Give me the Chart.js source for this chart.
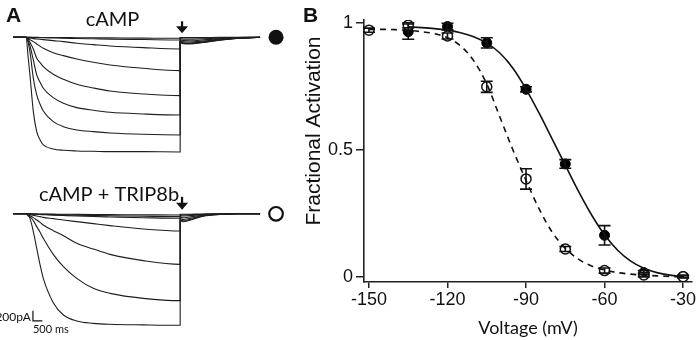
<!DOCTYPE html>
<html>
<head>
<meta charset="utf-8">
<script src="https://cdn.jsdelivr.net/npm/chart.js@4.4.1/dist/chart.umd.min.js"></script>
<style>
html, body { margin: 0; padding: 0; background: #fff; }
#wrap { position: relative; width: 699px; height: 340px; background: #fff; overflow: hidden; }
canvas { position: absolute; }
#topA { left: 0; top: 0; }
#botA { left: 0; top: 170px; }
#panelB { left: 300px; top: 0; }
</style>
</head>
<body>
<div id="wrap">
<canvas id="topA" width="300" height="170"></canvas>
<canvas id="botA" width="300" height="170"></canvas>
<canvas id="panelB" width="399" height="340"></canvas>
</div>
<script>
// ---- panel A: current traces (time in ms, current in pA) ----
var holdTime = -680;
var stepTimes = [0, 120, 210, 390, 570, 750, 920, 1450, 1990, 2700, 3580, 4470, 6240, 8200];
var tailTimes = [8200, 8370, 8720, 9430, 10320, 11210, 12450];

var campTraces = [
    [0, 0, -1, -1, -2, -3, -3, -5, -6, -8, -10, -12, -16, -20],
    [0, -1, -2, -4, -6, -8, -10, -14, -18, -24, -30, -36, -44, -53],
    [0, -7, -13, -27, -33, -40, -47, -67, -87, -120, -147, -173, -207, -233],
    [0, -20, -47, -87, -133, -180, -220, -307, -367, -433, -500, -553, -620, -667],
    [0, -40, -100, -233, -420, -507, -587, -740, -840, -940, -1013, -1073, -1133, -1167],
    [0, -73, -167, -453, -753, -900, -1020, -1207, -1320, -1407, -1460, -1500, -1533, -1553],
    [0, -120, -287, -820, -1153, -1340, -1473, -1687, -1787, -1853, -1887, -1913, -1940, -1953],
    [0, -420, -753, -1487, -1887, -2053, -2153, -2233, -2260, -2273, -2280, -2287, -2287, -2293]
];
var campTails = [
    [-4, -5, -5, -4, -2, -1, 0],
    [-12, -14, -15, -12, -6, -3, 0],
    [-31, -38, -40, -31, -17, -7, 0],
    [-54, -67, -70, -54, -29, -12, 0],
    [-73, -91, -95, -73, -40, -16, 0],
    [-89, -110, -115, -89, -48, -20, 0],
    [-96, -120, -125, -96, -53, -21, 0],
    [-104, -130, -135, -104, -57, -23, 0]
];

var tripTraces = [
    [0, 0, -1, -2, -3, -4, -5, -7, -9, -12, -15, -17, -21, -24],
    [0, -1, -2, -5, -7, -9, -11, -17, -22, -28, -34, -40, -49, -57],
    [0, -2, -4, -8, -12, -15, -18, -27, -35, -45, -55, -63, -78, -90],
    [0, -11, -17, -31, -44, -57, -71, -97, -124, -157, -197, -237, -304, -344],
    [0, -17, -37, -77, -124, -171, -224, -337, -437, -591, -704, -811, -937, -1011],
    [0, -24, -57, -137, -257, -371, -491, -811, -1057, -1291, -1491, -1591, -1691, -1737],
    [0, -44, -91, -357, -691, -1024, -1291, -1777, -2024, -2144, -2191, -2210, -2222, -2230]
];
var tripTails = [
    [-9, -10, -8, -3, -1, 0, 0],
    [-21, -25, -20, -8, -2, 0, 0],
    [-38, -45, -36, -14, -4, 0, 0],
    [-68, -80, -64, -24, -6, 0, 0],
    [-98, -115, -92, -35, -9, 0, 0],
    [-119, -140, -112, -42, -11, 0, 0],
    [-136, -160, -128, -48, -13, 0, 0]
];

// ---- panel B: activation curves ----
var voltages = [-150, -135, -120, -105, -90, -75, -60, -45, -30];
var campMean = [null, 0.966, 0.986, 0.922, 0.739, 0.445, 0.164, 0.017, 0.002];
var campSem  = [null, 0.030, 0.013, 0.020, 0.010, 0.017, 0.038, 0.008, 0.004];
var tripMean = [0.972, 0.991, 0.949, 0.749, 0.386, 0.110, 0.025, 0.008, 0.001];
var tripSem  = [0.008, 0.010, 0.012, 0.022, 0.040, 0.010, 0.010, 0.008, 0.005];

var campFitV = [-135, -130, -125, -120, -115, -110, -105, -100, -95, -90, -85, -80, -75, -70, -65, -60, -55, -50, -45, -40, -35, -30];
var campFit  = [0.985, 0.982, 0.978, 0.972, 0.962, 0.946, 0.921, 0.882, 0.822, 0.740, 0.645, 0.543, 0.440, 0.338, 0.245, 0.166, 0.105, 0.062, 0.034, 0.017, 0.007, 0.001];
var tripFitV = [-150, -145, -140, -135, -130, -125, -120, -115, -110, -105, -100, -95, -90, -85, -80, -75, -70, -65, -60, -55, -50, -45, -40, -35, -30];
var tripFit  = [0.975, 0.975, 0.974, 0.971, 0.966, 0.958, 0.942, 0.910, 0.852, 0.760, 0.630, 0.500, 0.380, 0.268, 0.176, 0.113, 0.070, 0.043, 0.027, 0.017, 0.011, 0.007, 0.004, 0.002, 0.0];

var xTicks = [-150, -120, -90, -60, -30];
var yTicks = [0, 0.5, 1];
var yTickLabels = ['0', '0.5', '1'];

var FONT = 'Lato, "Open Sans", sans-serif';
var ARIAL = 'Arial, "Liberation Sans", sans-serif';
Chart.defaults.font.family = FONT;
Chart.defaults.color = '#111';

// labels, arrow, symbol and scale bar for the trace panels
var traceDecor = {
    id: 'traceDecor',
    afterDraw: function(chart) {
        var o = chart.options.plugins.traceDecor;
        var ctx = chart.ctx, xs = chart.scales.x, ys = chart.scales.y;
        var base = ys.getPixelForValue(0);
        ctx.save();
        ctx.fillStyle = '#111';
        ctx.strokeStyle = '#111';
        if (o.letter) {
            ctx.font = 'bold 21px ' + ARIAL;
            ctx.textAlign = 'left';
            ctx.textBaseline = 'alphabetic';
            ctx.fillText(o.letter, 6, 22);
        }
        ctx.font = '20px ' + FONT;
        ctx.textAlign = 'center';
        ctx.textBaseline = 'alphabetic';
        ctx.fillText(o.label, xs.getPixelForValue(o.labelAt), base - o.labelLift);

        // arrow at end of step
        var ax = xs.getPixelForValue(8300);
        var tip = base - 4;
        ctx.lineWidth = 2.2;
        ctx.beginPath();
        ctx.moveTo(ax, tip - o.arrowLen);
        ctx.lineTo(ax, tip - 5);
        ctx.stroke();
        ctx.beginPath();
        ctx.moveTo(ax - 6, tip - 7);
        ctx.lineTo(ax + 6, tip - 7);
        ctx.lineTo(ax, tip);
        ctx.closePath();
        ctx.fill();

        // symbol
        var mx = xs.getPixelForValue(13300);
        ctx.beginPath();
        if (o.filled) {
            ctx.arc(mx, base, 7.5, 0, Math.PI * 2);
            ctx.fill();
        } else {
            ctx.lineWidth = 2.2;
            ctx.arc(mx, base, 6.8, 0, Math.PI * 2);
            ctx.stroke();
        }

        if (o.scaleBar) {
            var x0 = xs.getPixelForValue(370), x1 = xs.getPixelForValue(870);
            var y0 = ys.getPixelForValue(-2140), y1 = ys.getPixelForValue(-1940);
            ctx.lineWidth = 1.2;
            ctx.beginPath();
            ctx.moveTo(x0, y1);
            ctx.lineTo(x0, y0);
            ctx.lineTo(x1, y0);
            ctx.stroke();
            ctx.font = '12px ' + FONT;
            ctx.textAlign = 'right';
            ctx.textBaseline = 'middle';
            ctx.fillText('200pA', x0 - 2, (y0 + y1) / 2 + 1);
            ctx.font = '11px ' + FONT;
            ctx.textAlign = 'left';
            ctx.textBaseline = 'top';
            ctx.fillText('500 ms', x0, y0 + 3);
        }
        ctx.restore();
    }
};

function traceChart(id, traces, tails, yMin, yMax, decor) {
    var datasets = traces.map(function(tr, k) {
        var pts = [{x: holdTime, y: 0}];
        for (var i = 0; i < stepTimes.length; i++) pts.push({x: stepTimes[i], y: tr[i]});
        for (var j = 0; j < tailTimes.length; j++) pts.push({x: tailTimes[j], y: tails[k][j]});
        return {
            data: pts,
            borderColor: '#1e1e1e',
            borderWidth: 1.1,
            pointRadius: 0,
            fill: false,
            cubicInterpolationMode: 'monotone'
        };
    });
    return new Chart(document.getElementById(id), {
        type: 'line',
        data: {datasets: datasets},
        options: {
            responsive: false,
            animation: false,
            devicePixelRatio: 1,
            layout: {padding: 0},
            scales: {
                x: {type: 'linear', display: false, min: -1383, max: 14574},
                y: {display: false, min: yMin, max: yMax}
            },
            plugins: {
                legend: {display: false},
                tooltip: {enabled: false},
                traceDecor: decor
            }
        },
        plugins: [traceDecor]
    });
}

traceChart('topA', campTraces, campTails, -2654, 746,
    {letter: 'A', label: 'cAMP', labelAt: 4600, labelLift: 11, arrowLen: 12, filled: true, scaleBar: false});
traceChart('botA', tripTraces, tripTails, -2524, 876,
    {letter: null, label: 'cAMP + TRIP8b', labelAt: 4415, labelLift: 13, arrowLen: 13, filled: false, scaleBar: true});

// error bars, y title and panel letter for B
var errorBars = {
    id: 'errorBars',
    afterDatasetsDraw: function(chart) {
        var ctx = chart.ctx, xs = chart.scales.x, ys = chart.scales.y;
        ctx.save();
        ctx.strokeStyle = '#111';
        ctx.lineWidth = 1.6;
        [[campMean, campSem], [tripMean, tripSem]].forEach(function(s) {
            voltages.forEach(function(v, i) {
                if (s[0][i] == null) return;
                var x = xs.getPixelForValue(v);
                var y1 = ys.getPixelForValue(s[0][i] + s[1][i]);
                var y2 = ys.getPixelForValue(s[0][i] - s[1][i]);
                ctx.beginPath();
                ctx.moveTo(x, y1); ctx.lineTo(x, y2);
                ctx.moveTo(x - 6, y1); ctx.lineTo(x + 6, y1);
                ctx.moveTo(x - 6, y2); ctx.lineTo(x + 6, y2);
                ctx.stroke();
            });
        });
        ctx.fillStyle = '#111';
        ctx.font = 'bold 21px ' + ARIAL;
        ctx.textAlign = 'left';
        ctx.textBaseline = 'alphabetic';
        ctx.fillText('B', 3, 22);

        ctx.translate(14, 131);
        ctx.rotate(-Math.PI / 2);
        ctx.font = '21px ' + ARIAL;
        ctx.textAlign = 'center';
        ctx.textBaseline = 'middle';
        ctx.fillText('Fractional Activation', 0, 0);
        ctx.restore();
    }
};

function pairs(xs, ys) {
    var out = [];
    for (var i = 0; i < xs.length; i++) if (ys[i] != null) out.push({x: xs[i], y: ys[i]});
    return out;
}

new Chart(document.getElementById('panelB'), {
    type: 'line',
    data: {
        datasets: [
            {data: pairs(campFitV, campFit), borderColor: '#111', borderWidth: 1.6, pointRadius: 0, cubicInterpolationMode: 'monotone'},
            {data: pairs(tripFitV, tripFit), borderColor: '#111', borderWidth: 1.6, borderDash: [6, 5], pointRadius: 0, cubicInterpolationMode: 'monotone'},
            {data: pairs(voltages, tripMean), showLine: false, pointRadius: 5, pointBorderWidth: 1.5,
             pointBackgroundColor: '#fff', pointBorderColor: '#111'},
            {data: pairs(voltages, campMean), showLine: false, pointRadius: 5, pointBorderWidth: 1,
             pointBackgroundColor: '#000', pointBorderColor: '#000'}
        ]
    },
    options: {
        responsive: false,
        animation: false,
        devicePixelRatio: 1,
        layout: {padding: {top: 20, right: 7, left: 0, bottom: 0}},
        scales: {
            x: {
                type: 'linear',
                min: -151.9, max: -26.6,
                afterBuildTicks: function(s) { s.ticks = xTicks.map(function(v) { return {value: v}; }); },
                afterFit: function(s) { s.height = 58; s.paddingLeft = 0; s.paddingRight = 0; },
                ticks: {font: {size: 18, family: ARIAL}, color: '#111', padding: 1, maxRotation: 0,
                        callback: function(v) { return String(v); }},
                grid: {drawOnChartArea: false, drawTicks: true, tickLength: 6, color: '#222', lineWidth: 1.5},
                border: {display: true, color: '#222', width: 1.6},
                title: {display: true, text: 'Voltage (mV)', font: {size: 18}, color: '#111', padding: {top: 0, bottom: 1}}
            },
            y: {
                min: -0.02, max: 1.012,
                afterBuildTicks: function(s) { s.ticks = yTicks.map(function(v) { return {value: v}; }); },
                afterFit: function(s) { s.width = 64; s.paddingTop = 0; s.paddingBottom = 0; },
                ticks: {font: {size: 18, family: ARIAL}, color: '#111', padding: 3,
                        callback: function(v, i) { return yTickLabels[i]; }},
                grid: {drawOnChartArea: false, drawTicks: true, tickLength: 8, color: '#222', lineWidth: 1.5},
                border: {display: true, color: '#222', width: 1.6},
                title: {display: false}
            }
        },
        plugins: {legend: {display: false}, tooltip: {enabled: false}}
    },
    plugins: [errorBars]
});
</script>
</body>
</html>
